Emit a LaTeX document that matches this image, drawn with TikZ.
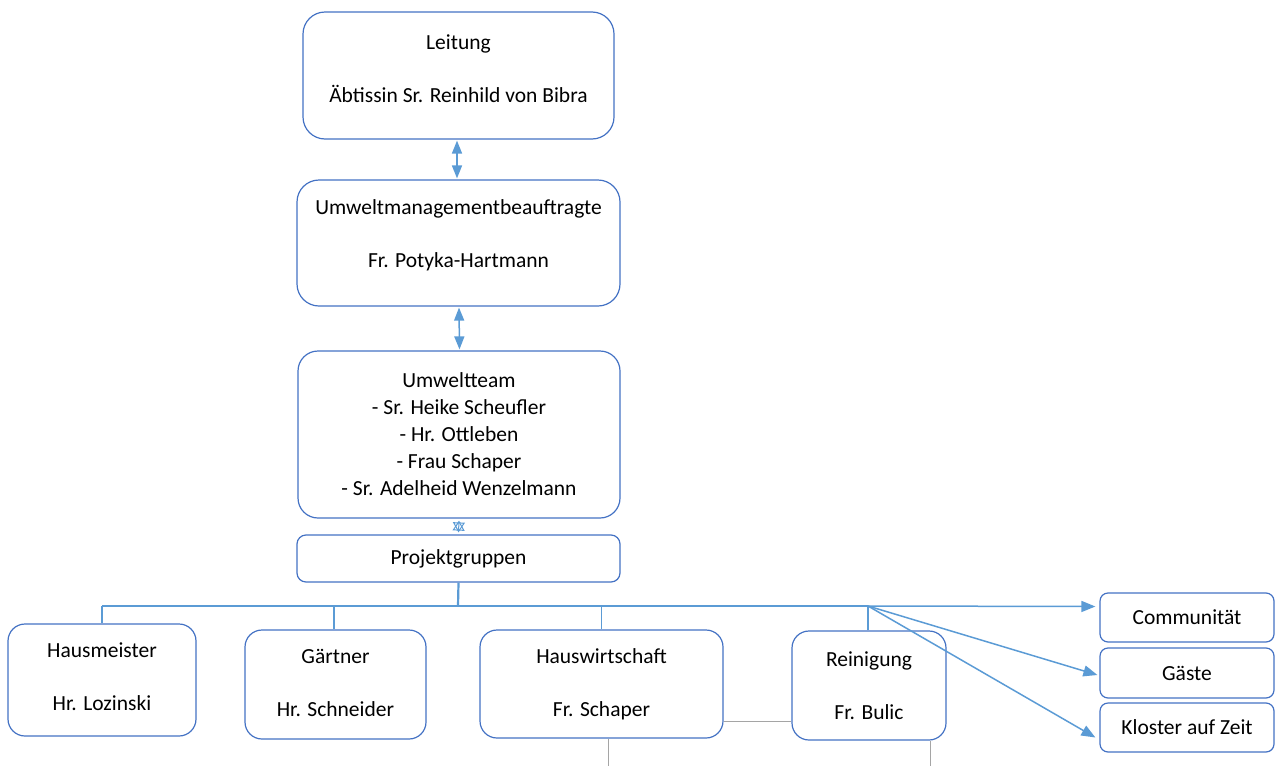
\documentclass[tikz,border=0pt]{standalone}
\usepackage{fontspec}
\setmainfont{Carlito}
\usetikzlibrary{arrows.meta,calc}
\definecolor{boxblue}{HTML}{4472C4}
\definecolor{lineblue}{HTML}{5B9BD5}
\definecolor{lgray}{HTML}{A5A5A5}
\begin{document}
\begin{tikzpicture}[x=1pt,y=-1pt,
  box/.style={draw=boxblue,line width=1.2pt,fill=white,inner sep=0pt,align=center,
    font=\fontsize{21.5}{27}\selectfont},
  conn/.style={draw=lineblue,line width=1.5pt},
  tip/.style={-{Triangle[length=14pt,width=11pt]}},
  dtip/.style={{Triangle[length=13pt,width=10pt]}-{Triangle[length=13pt,width=10pt]}},
  glin/.style={draw=lgray,line width=1pt}]
\useasboundingbox (0,0) rectangle (1275,766);
\node[box,rounded corners=22pt,minimum width=311pt,minimum height=127pt] (lei) at (458.5,75.5)
  {Leitung\\[26pt]Äbtissin Sr. Reinhild von Bibra\\[-14pt]};
\node[box,rounded corners=22pt,minimum width=323pt,minimum height=126pt] (umb) at (458.5,243)
  {Umweltmanagementbeauftragte\\[26pt]Fr. Potyka-Hartmann\\[-8pt]};
\node[box,rounded corners=20pt,minimum width=322pt,minimum height=167pt] (team) at (459,434.5)
  {Umweltteam\\- Sr. Heike Scheufler\\- Hr. Ottleben\\- Frau Schaper\\- Sr. Adelheid Wenzelmann};
\node[box,rounded corners=9pt,minimum width=323pt,minimum height=47pt] (proj) at (458.5,558.5)
  {Projektgruppen};
\node[box,rounded corners=17pt,minimum width=188pt,minimum height=112pt] (hm) at (102,680)
  {Hausmeister\\[26pt]Hr. Lozinski\\[-20pt]};
\node[box,rounded corners=17pt,minimum width=181pt,minimum height=109pt] (gae) at (335.5,684.5)
  {Gärtner\\[26pt]Hr. Schneider\\[-23pt]};
\node[box,rounded corners=17pt,minimum width=243pt,minimum height=108pt] (hw) at (601.5,684)
  {Hauswirtschaft\\[26pt]Fr. Schaper};
\node[box,rounded corners=17pt,minimum width=154pt,minimum height=109pt] (rein) at (869,685.5)
  {Reinigung\\[26pt]Fr. Bulic};
\node[box,rounded corners=8pt,minimum width=174pt,minimum height=49pt] (comm) at (1187,617.5)
  {Communität};
\node[box,rounded corners=8pt,minimum width=174pt,minimum height=50pt] (gaeste) at (1187,673)
  {Gäste};
\node[box,rounded corners=8pt,minimum width=174pt,minimum height=49pt] (klo) at (1187,727.5)
  {Kloster auf Zeit};
% vertical connectors
\draw[conn,dtip] ($(lei.south)+(-1.5,1)$) -- ($(umb.north)+(-1.5,-1)$);
\draw[conn,dtip] ($(umb.south)+(0.5,1)$) -- ($(team.north)+(0.5,-1)$);
\draw[draw=lineblue,line width=1pt,{Triangle[open,length=10pt,width=12pt]}-{Triangle[open,length=10pt,width=12pt]}]
  ($(team.south)+(0,2)$) -- ($(proj.north)+(0,-2)$);
\coordinate (bus) at (458,606);
\coordinate (split) at (868,606);
\draw[draw=lineblue,line width=2.2pt] (proj.south) -- (bus);
\draw[conn] (hm.north |- bus) -- (split);
\draw[conn] (hm.north) -- (hm.north |- bus);
\draw[conn] ($(gae.north)+(-1.5,0)$) -- ($(gae.north |- bus)+(-1.5,0)$);
\draw[conn] (hw.north) -- (hw.north |- bus);
\draw[conn] ($(rein.north)+(-1,0)$) -- (split);
\draw[conn,tip] (split) -- ($(comm.west)+(-4,-11)$);
\draw[conn,tip] (split) -- ($(gaeste.west)+(-2,2)$);
\draw[conn,tip] (split) -- ($(klo.west)+(-4,10)$);
% gray lines
\draw[glin] (hw.east |- 0,721) -- (rein.west |- 0,721);
\draw[glin] ($(hw.south)+(6.5,0)$) -- ++(0,28);
\draw[glin] ($(rein.south)+(61,0)$) -- ++(0,26);
\end{tikzpicture}
\end{document}
